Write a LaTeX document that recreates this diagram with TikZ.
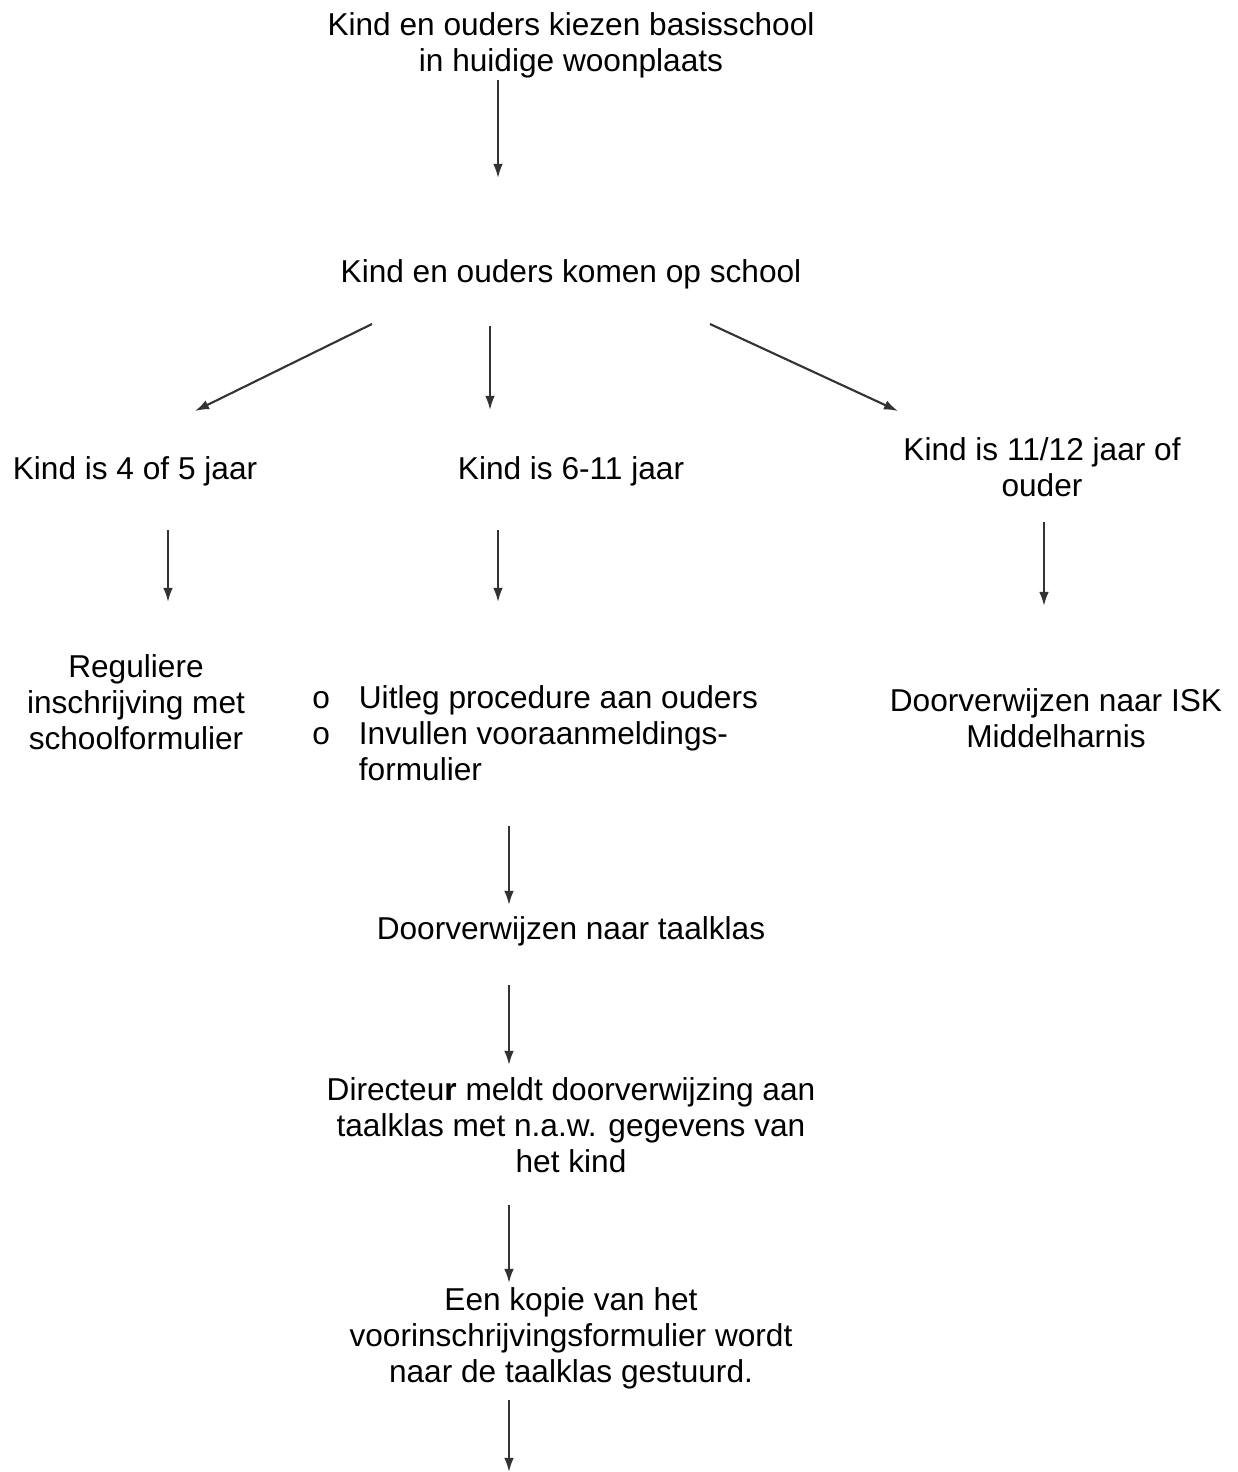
\documentclass[tikz,border=0pt]{standalone}
\usepackage{fontspec}
\setmainfont{Liberation Sans}
\usetikzlibrary{arrows.meta}

\begin{document}
\begin{tikzpicture}[x=0.02cm,y=-0.02cm]
		\tikzstyle {step text} = [inner sep=0, align=center, font=\fontsize{18}{20.5}\selectfont]
		\tikzstyle {flow arrow} = [-{Latex[length=8pt,width=5.5pt]}, line width=1.2pt, black!80]

		\useasboundingbox (0,0) rectangle (1238,1472);

		% tekstblokken
		\node[step text] (kiezen) at (571, 45.5) {Kind en ouders kiezen basisschool\\in huidige woonplaats};
		\node[step text] (komen) at (571, 274) {Kind en ouders komen op school};
		\node[step text] (jong) at (135, 471) {Kind is 4 of 5 jaar};
		\node[step text] (midden) at (571, 471) {Kind is 6-11 jaar};
		\node[step text] (oud) at (1042, 467.5) {Kind is 11/12 jaar of\\ouder};
		\node[step text] (regulier) at (136, 702.5) {Reguliere\\inschrijving met\\schoolformulier};
		\node[step text, anchor=west] (uitleg) at (312, 737) {\begin{tabular}{@{}l@{\hspace{16.5pt}}l@{}}
				o & Uitleg procedure aan ouders\\
				o & Invullen vooraanmeldings-\\
				  & formulier
			\end{tabular}};
		\node[step text] (isk) at (1056, 718) {Doorverwijzen naar ISK\\Middelharnis};
		\node[step text] (taalklas) at (571, 931) {Doorverwijzen naar taalklas};
		\node[step text] (directeur) at (571, 1125) {Directeu\textbf{r} meldt doorverwijzing aan\\taalklas met n.a.w. gegevens van\\het kind};
		\node[step text] (kopie) at (571, 1338) {Een kopie van het\\voorinschrijvingsformulier wordt\\naar de taalklas gestuurd.};

		% pijlen
		\coordinate (a1) at (498, 80);   \coordinate (b1) at (498, 178);
		\coordinate (a2) at (372, 324);  \coordinate (b2) at (195, 411);
		\coordinate (a3) at (490, 326);  \coordinate (b3) at (490, 410);
		\coordinate (a4) at (710, 324);  \coordinate (b4) at (898, 411);
		\coordinate (a5) at (168, 530);  \coordinate (b5) at (168, 602);
		\coordinate (a6) at (498, 530);  \coordinate (b6) at (498, 602);
		\coordinate (a7) at (1044, 522); \coordinate (b7) at (1044, 606);
		\coordinate (a8) at (509, 826);  \coordinate (b8) at (509, 905);
		\coordinate (a9) at (509, 985);  \coordinate (b9) at (509, 1065);
		\coordinate (a10) at (509, 1205); \coordinate (b10) at (509, 1283);
		\coordinate (a11) at (509, 1400); \coordinate (b11) at (509, 1472);

		\foreach \i in {1,...,11}
			\draw[flow arrow] (a\i) -- (b\i);

	\end{tikzpicture}
\end{document}
